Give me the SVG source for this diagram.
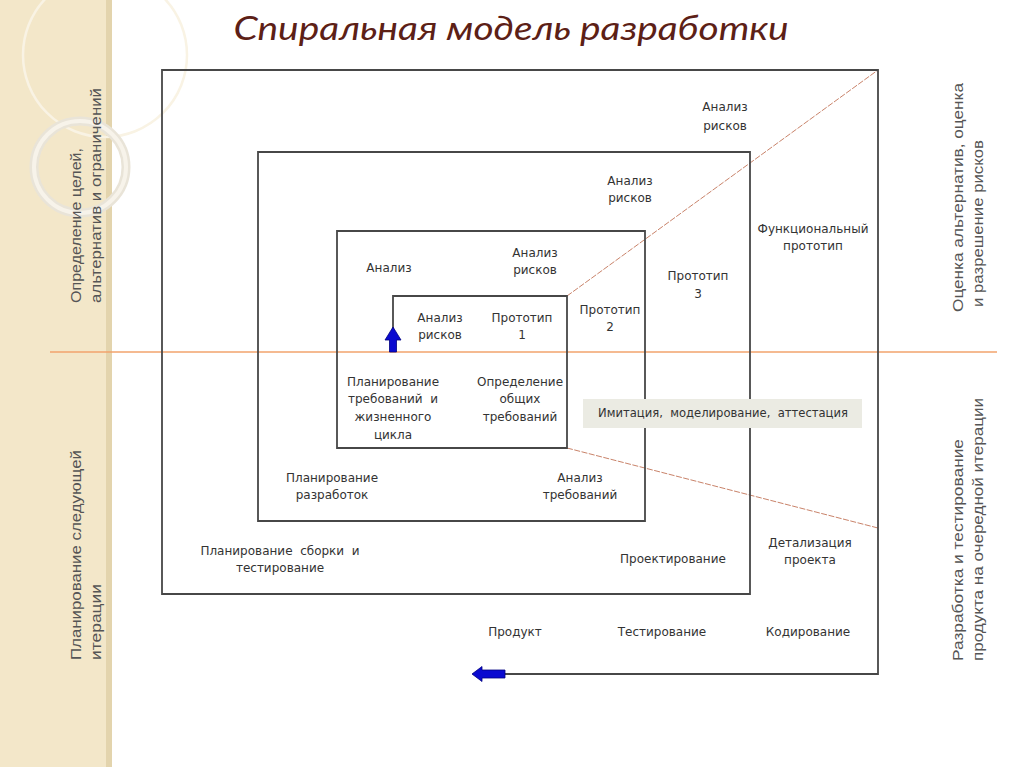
<svg xmlns="http://www.w3.org/2000/svg" width="1024" height="767" viewBox="0 0 1024 767">
<style>
.t{font-family:"DejaVu Sans",Verdana,sans-serif;font-size:12px;fill:#333;text-anchor:middle}
.side{font-family:"Liberation Sans",Arial,sans-serif;font-size:15.5px;fill:#555}
.sp{fill:none;stroke:#474747;stroke-width:1.8}
.or{stroke:#f2a36c;stroke-width:1.5}
.dg{stroke:#c9836a;stroke-width:1;stroke-dasharray:6 1.5}
.arr{fill:#0a0ad0;stroke:#000080;stroke-width:0.8}
</style>
<rect width="1024" height="767" fill="#ffffff"/>
<g id="sidebar">
<rect x="0" y="0" width="110" height="767" fill="#f3e7c9"/>
<rect x="106" y="0" width="6" height="767" fill="#e3d4ad"/>
<circle cx="105" cy="55" r="82" fill="none" stroke="#f9f3e4" stroke-width="2.5"/>
<circle cx="80" cy="167" r="46" fill="none" stroke="#e9e4d8" stroke-width="9"/>
<circle cx="80" cy="167" r="46" fill="none" stroke="#f7f3ea" stroke-width="4"/>
</g>
<text x="511" y="40" font-family="Lato,'Open Sans',sans-serif" font-style="italic" font-size="33" fill="#5c2016" text-anchor="middle" textLength="555" lengthAdjust="spacingAndGlyphs">Спиральная модель разработки</text>
<g id="connectors">
<line class="or" x1="50" y1="352" x2="997" y2="352"/>
<line class="dg" x1="567" y1="296" x2="878" y2="70"/>
<line class="dg" x1="567" y1="448" x2="878" y2="528"/>
<path id="spiral" class="sp" d="M393,340 V296 H567 V448 H337 V231 H645 V521 H258 V152 H750 V594 H162 V70 H878 V674 H500"/>
<path id="arrow-up" class="arr" d="M393,327 L401,340 L396.5,340 L396.5,352 L389.5,352 L389.5,340 L385,340 Z"/>
<path id="arrow-left" class="arr" d="M472,674 L482,666.5 L482,670 L505,670 L505,678 L482,678 L482,681.5 Z"/>
</g>
<g id="side-labels">
<text class="side" transform="translate(81,303) rotate(-90)" textLength="155" lengthAdjust="spacingAndGlyphs">Определение целей,</text>
<text class="side" transform="translate(101,303) rotate(-90)" textLength="215" lengthAdjust="spacingAndGlyphs">альтернатив и ограничений</text>
<text class="side" transform="translate(81,660) rotate(-90)" textLength="210" lengthAdjust="spacingAndGlyphs">Планирование следующей</text>
<text class="side" transform="translate(101,660) rotate(-90)" textLength="76" lengthAdjust="spacingAndGlyphs">итерации</text>
<text class="side" transform="translate(963,312) rotate(-90)" textLength="229" lengthAdjust="spacingAndGlyphs">Оценка альтернатив, оценка</text>
<text class="side" transform="translate(983,307) rotate(-90)" textLength="167" lengthAdjust="spacingAndGlyphs">и разрешение рисков</text>
<text class="side" transform="translate(963,661) rotate(-90)" textLength="222" lengthAdjust="spacingAndGlyphs">Разработка и тестирование</text>
<text class="side" transform="translate(983,661) rotate(-90)" textLength="263" lengthAdjust="spacingAndGlyphs">продукта на очередной итерации</text>
</g>
<g id="n-risk4"><text class="t" x="725" y="111">Анализ</text><text class="t" x="725" y="130">рисков</text></g>
<g id="n-risk3"><text class="t" x="630" y="185">Анализ</text><text class="t" x="630" y="202">рисков</text></g>
<g id="n-analysis"><text class="t" x="389" y="272">Анализ</text></g>
<g id="n-risk2"><text class="t" x="535" y="257">Анализ</text><text class="t" x="535" y="274">рисков</text></g>
<g id="n-risk1"><text class="t" x="440" y="322">Анализ</text><text class="t" x="440" y="339">рисков</text></g>
<g id="n-proto1"><text class="t" x="522" y="322">Прототип</text><text class="t" x="522" y="339">1</text></g>
<g id="n-proto2"><text class="t" x="610" y="314">Прототип</text><text class="t" x="610" y="331">2</text></g>
<g id="n-proto3"><text class="t" x="698" y="280">Прототип</text><text class="t" x="698" y="298">3</text></g>
<g id="n-funcproto"><text class="t" x="813" y="233">Функциональный</text><text class="t" x="813" y="250">прототип</text></g>
<g id="n-plan-req"><text class="t" x="393" y="386">Планирование</text><text class="t" x="393" y="403" xml:space="preserve">требований  и</text><text class="t" x="393" y="421">жизненного</text><text class="t" x="393" y="439">цикла</text></g>
<g id="n-def-req"><text class="t" x="520" y="386">Определение</text><text class="t" x="520" y="403">общих</text><text class="t" x="520" y="421">требований</text></g>
<g id="n-plan-dev"><text class="t" x="332" y="482">Планирование</text><text class="t" x="332" y="499">разработок</text></g>
<g id="n-req-analysis"><text class="t" x="580" y="482">Анализ</text><text class="t" x="580" y="499">требований</text></g>
<g id="n-plan-build"><text class="t" x="280" y="555" xml:space="preserve">Планирование  сборки  и</text><text class="t" x="280" y="572">тестирование</text></g>
<g id="n-design"><text class="t" x="673" y="563">Проектирование</text></g>
<g id="n-detail"><text class="t" x="810" y="547">Детализация</text><text class="t" x="810" y="564">проекта</text></g>
<g id="n-product"><text class="t" x="515" y="636">Продукт</text></g>
<g id="n-testing"><text class="t" x="662" y="636">Тестирование</text></g>
<g id="n-coding"><text class="t" x="808" y="636">Кодирование</text></g>
<g id="n-imitation">
<rect x="583" y="399" width="279" height="29" fill="#ebebe3"/>
<text class="t" x="723" y="417" fill="#444" xml:space="preserve" textLength="250" lengthAdjust="spacingAndGlyphs">Имитация,  моделирование,  аттестация</text>
</g>
</svg>
